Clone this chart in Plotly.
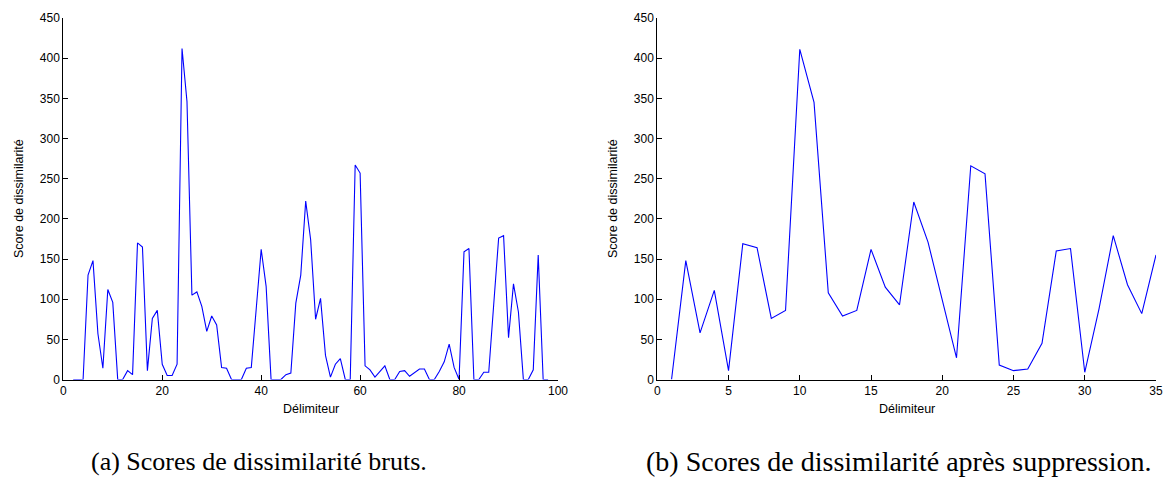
import plotly.graph_objects as go

# Raw dissimilarity scores, one per delimiter (delimiters 2..98)
raw_delims = list(range(2, 99))
raw_scores = [
    0, 0, 0, 130, 148, 57, 14, 112, 96, 0,
    0, 11, 6, 170, 165, 11, 76, 86, 19, 5,
    5, 19, 412, 346, 105, 109, 91, 60, 79, 68,
    15, 14, 0, 0, 0, 14, 15, 88, 162, 116,
    0, 0, 0, 6, 8, 95, 130, 222, 174, 75,
    101, 30, 3, 19, 26, 0, 0, 267, 257, 17,
    12, 3, 10, 17, 0, 0, 10, 11, 4, 8,
    13, 13, 0, 0, 10, 22, 44, 15, 0, 159,
    163, 0, 0, 9, 9, 93, 176, 179, 52, 119,
    84, 0, 0, 12, 155, 0, 0,
]

# Scores kept after suppression (delimiters 1..35)
kept_delims = list(range(1, 36))
kept_scores = [
    0, 148, 58, 111, 11, 169, 164, 76, 86, 411,
    345, 108, 79, 86, 162, 115, 93, 221, 171, 100,
    27, 266, 256, 18, 11, 13, 45, 160, 163, 9,
    88, 179, 118, 82, 155,
]

x_ticks_raw = [0, 20, 40, 60, 80, 100]
x_ticks_kept = [0, 5, 10, 15, 20, 25, 30, 35]
y_ticks = [0, 50, 100, 150, 200, 250, 300, 350, 400, 450]

x_title = "Délimiteur"
y_title = "Score de dissimilarité"
captions = ["(a) Scores de dissimilarité bruts.",
            "(b) Scores de dissimilarité après suppression."]

W, H = 1172, 478
tick_font = dict(family="Liberation Sans, Arial, sans-serif", size=12, color="black")

fig = go.Figure()
fig.add_trace(go.Scatter(x=raw_delims, y=raw_scores, mode="lines",
                         line=dict(color="#0000ff", width=1.1),
                         xaxis="x", yaxis="y", showlegend=False))
fig.add_trace(go.Scatter(x=kept_delims, y=kept_scores, mode="lines",
                         line=dict(color="#0000ff", width=1.1),
                         xaxis="x2", yaxis="y2", showlegend=False))


def px_x(p):
    return p / W


def px_y(p):
    return 1 - p / H


axis_common = dict(showline=True, linecolor="black", linewidth=1,
                   ticks="inside", ticklen=5, tickcolor="black", tickwidth=1,
                   showgrid=False, zeroline=False, mirror=False,
                   automargin=False, tickfont=tick_font)

y_dom = [px_y(379.5), px_y(18)]

fig.update_layout(
    template="none",
    width=W, height=H,
    margin=dict(l=0, r=0, t=0, b=0, pad=0),
    paper_bgcolor="white", plot_bgcolor="white",
    showlegend=False,
    xaxis=dict(domain=[px_x(63.3), px_x(558)], range=[0, 100],
               tickvals=x_ticks_raw, anchor="y", **axis_common),
    yaxis=dict(domain=y_dom, range=[0, 450], tickvals=y_ticks,
               anchor="x", **axis_common),
    xaxis2=dict(domain=[px_x(657.3), px_x(1156)], range=[0, 35],
                tickvals=x_ticks_kept, anchor="y2", **axis_common),
    yaxis2=dict(domain=y_dom, range=[0, 450], tickvals=y_ticks,
                anchor="x2", **axis_common),
)

label_font = dict(family="Liberation Sans, Arial, sans-serif", size=12.5, color="black")

annotations = []
for cx, ty in [((63.3 + 558) / 2, 19), ((657.3 + 1156) / 2, 613)]:
    annotations.append(dict(text=x_title, x=px_x(cx), y=px_y(409), xref="paper", yref="paper",
                            xanchor="center", yanchor="middle", showarrow=False, font=label_font))
    annotations.append(dict(text=y_title, x=px_x(ty), y=px_y(199), xref="paper", yref="paper",
                            xanchor="center", yanchor="middle", textangle=-90,
                            showarrow=False, font=label_font))
for cap, cx, fs in zip(captions, [259, 898], [26, 28]):
    annotations.append(dict(text=cap, x=px_x(cx), y=px_y(461), xref="paper", yref="paper",
                            xanchor="center", yanchor="middle", showarrow=False,
                            font=dict(family="Liberation Serif, serif", size=fs, color="black")))
fig.update_layout(annotations=annotations)

fig.write_html("out.html")
